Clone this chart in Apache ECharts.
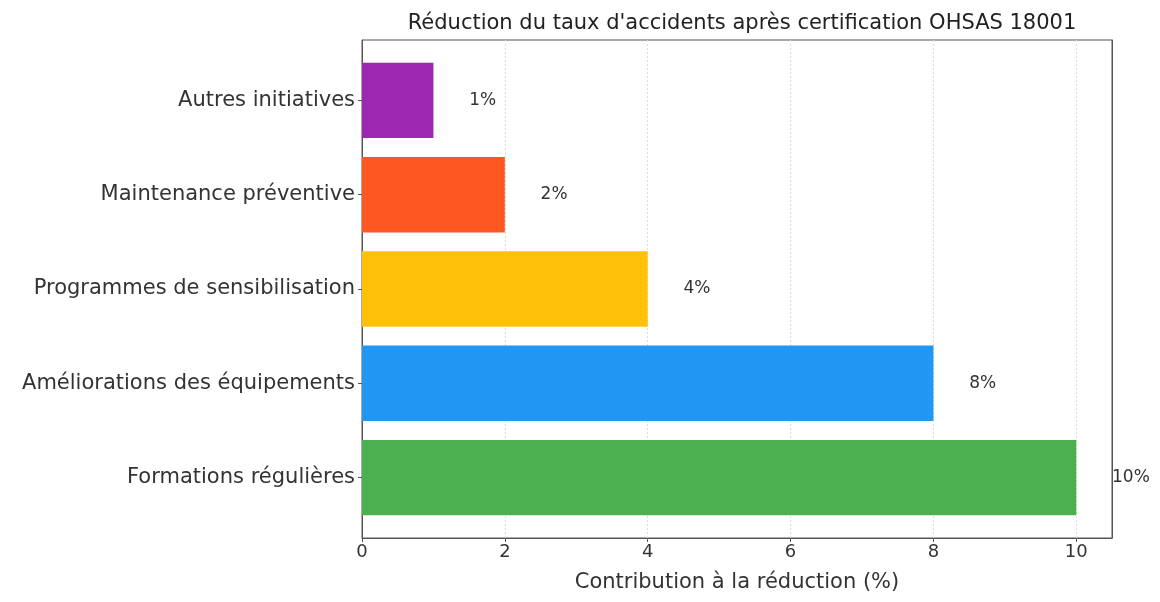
<!DOCTYPE html>
<html><head><meta charset="utf-8">
<script src="https://cdn.jsdelivr.net/npm/echarts@6/dist/echarts.min.js"></script>
<style>html,body{margin:0;padding:0;background:#fff}#c{width:1160px;height:602px}</style>
</head><body><div id="c"></div>
<script>
const categories = ["Formations régulières","Améliorations des équipements","Programmes de sensibilisation","Maintenance préventive","Autres initiatives"];
const values = [10, 8, 4, 2, 1];
const colors = ["#4CAF50","#2196F3","#FFC107","#FF5722","#9C27B0"];
const xTicks = [0, 2, 4, 6, 8, 10];
const titleText = "Réduction du taux d'accidents après certification OHSAS 18001";
const xTitle = "Contribution à la réduction (%)";

const FONT = "DejaVu Sans";
const L = 362, R = 1112, T = 40, B = 538;
const H = B - T;
const unit = H / 5.28;
const innerTop = T + 0.14 * unit;
const innerH = 5 * unit;
const pxPerX = (R - L) / 10.5;

const chart = echarts.init(document.getElementById('c'), null, {renderer:'canvas'});
chart.setOption({
  animation: false,
  title: {text: titleText, left: 737, top: 8, textAlign: 'center',
    textStyle: {fontFamily: FONT, fontSize: 21, fontWeight: 'normal', color: '#222'}},
  grid: [
    {left: L, top: T, width: R - L, height: H, show: true, borderColor: '#555', borderWidth: 1, containLabel: false},
    {left: L, top: innerTop, width: R - L, height: innerH, containLabel: false}
  ],
  xAxis: [
    {gridIndex: 0, type: 'value', min: 0, max: 10.5, interval: 2,
      axisLine: {show: true, lineStyle: {color: '#555'}},
      axisTick: {show: true, length: 4, lineStyle: {color: '#555'}, customValues: xTicks},
      axisLabel: {fontFamily: FONT, fontSize: 18, color: '#333', margin: 5, customValues: xTicks,
        formatter: v => String(v)},
      splitLine: {show: true, lineStyle: {color: '#ddd', type: [2,2], width: 1}},
      name: xTitle, nameLocation: 'middle', nameGap: 34,
      nameTextStyle: {fontFamily: FONT, fontSize: 21, color: '#333'}},
    {gridIndex: 1, type: 'value', min: 0, max: 10.5, show: false}
  ],
  yAxis: [
    {gridIndex: 0, type: 'value', min: 0, max: 1, show: true, position: 'left',
      axisLine: {show: true, lineStyle: {color: '#555'}},
      axisTick: {show: false}, axisLabel: {show: false}, splitLine: {show: false}},
    {gridIndex: 1, type: 'category', data: categories,
      axisLine: {show: false},
      axisTick: {show: true, alignWithLabel: true, length: 4, lineStyle: {color: '#555'}},
      axisLabel: {fontFamily: FONT, fontSize: 21, color: '#333', margin: 7}},
    {gridIndex: 0, type: 'value', min: 0, max: 1, show: true, position: 'right',
      axisLine: {show: true, lineStyle: {color: '#555'}},
      axisTick: {show: false}, axisLabel: {show: false}, splitLine: {show: false}}
  ],
  series: [{
    type: 'bar', xAxisIndex: 1, yAxisIndex: 1,
    data: values.map((v, i) => ({value: v, itemStyle: {color: colors[i]}})),
    barWidth: 0.8 * unit,
    label: {show: true, position: 'right', distance: 0.5 * pxPerX,
      formatter: p => p.value + '%', fontFamily: FONT, fontSize: 17, color: '#333'}
  }]
});
</script></body></html>
